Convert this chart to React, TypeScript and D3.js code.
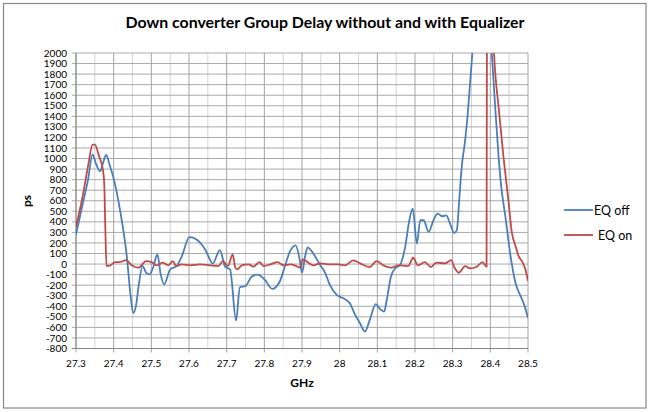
import React from "react";
import * as d3 from "d3";

// Group delay (ps)
const eqOffFreq = [
  27.3, 27.319, 27.332, 27.344, 27.352, 27.364, 27.372, 27.38, 27.39, 27.399,
  27.417, 27.435, 27.445, 27.452, 27.46, 27.466, 27.477, 27.486, 27.495, 27.505,
  27.516, 27.525, 27.534, 27.55, 27.567, 27.581, 27.601, 27.62, 27.643, 27.663,
  27.682, 27.696, 27.709, 27.725, 27.735, 27.75, 27.766, 27.782, 27.801, 27.821,
  27.841, 27.853, 27.868, 27.883, 27.894, 27.9, 27.908, 27.915, 27.927, 27.948,
  27.961, 27.974, 27.992, 28.01, 28.027, 28.041, 28.054, 28.067, 28.08, 28.096,
  28.107, 28.118, 28.125, 28.136, 28.147, 28.16, 28.174, 28.185, 28.194, 28.205,
  28.214, 28.223, 28.236, 28.249, 28.26, 28.272, 28.283, 28.293, 28.304, 28.311,
  28.318, 28.324, 28.333, 28.34, 28.346, 28.352, 28.378, 28.404, 28.413, 28.422,
  28.427, 28.441, 28.454, 28.467, 28.481, 28.49, 28.5,
];
const eqOffValue = [
  280, 588, 800, 1040, 960, 880, 960, 1035, 930, 824,
  509, 69, -300, -465, -380, -214, -19, -80, -97, -30,
  92, -100, -192, -50, -19, 75, 255, 233, 139, 7,
  132, -25, -50, -535, -220, -208, -120, -100, -148, -235,
  -165, -40, 120, 178, 40, -82, 69, 158, 116, -9,
  -80, -198, -292, -324, -371, -481, -560, -639, -528, -380,
  -425, -450, -340, -120, -41, -9, 163, 415, 525, 195,
  415, 415, 305, 415, 478, 453, 462, 384, 295, 321,
  635, 918, 1170, 1422, 1705, 1987, 3300, 1987, 1484, 1012,
  800, 420, 69, -182, -308, -387, -510,
];

const eqOnFreq = [
  27.3, 27.319, 27.333, 27.344, 27.35, 27.362, 27.371, 27.375, 27.378, 27.381,
  27.39, 27.404, 27.417, 27.433, 27.448, 27.466, 27.486, 27.501, 27.514, 27.531,
  27.545, 27.557, 27.566, 27.581, 27.603, 27.629, 27.656, 27.678, 27.69, 27.703,
  27.716, 27.723, 27.728, 27.74, 27.758, 27.771, 27.787, 27.798, 27.816, 27.835,
  27.851, 27.869, 27.885, 27.895, 27.902, 27.917, 27.93, 27.948, 27.974, 27.996,
  28.014, 28.036, 28.054, 28.08, 28.098, 28.116, 28.136, 28.156, 28.182, 28.195,
  28.208, 28.226, 28.242, 28.257, 28.28, 28.296, 28.305, 28.316, 28.333, 28.346,
  28.364, 28.379, 28.39, 28.391, 28.4, 28.41, 28.422, 28.435, 28.448, 28.457,
  28.467, 28.475, 28.484, 28.493, 28.5,
];
const eqOnValue = [
  350, 667, 950, 1132, 1132, 1012, 903, 761, 321, -19,
  -15, 19, 19, 38, -12, -34, 28, 19, -12, 13,
  -12, 28, -19, -3, -12, -3, -12, -19, 28, -19,
  92, -34, -50, -12, -3, -25, 19, -19, -3, 19,
  -12, -3, -19, -34, 45, 13, -12, 7, -3, -3,
  -12, 35, 7, -28, 28, -12, -34, -12, -19, 60,
  -12, 19, -28, 13, 7, 38, -34, -82, -19, -41,
  -25, 19, -25, 2300, 3000, 1987, 1484, 1012, 604, 300,
  170, 75, 28, -50, -160,
];

const xMajorTicks = [27.3, 27.4, 27.5, 27.6, 27.7, 27.8, 27.9, 28, 28.1, 28.2, 28.3, 28.4, 28.5];
const xTickLabels = ["27.3", "27.4", "27.5", "27.6", "27.7", "27.8", "27.9", "28", "28.1", "28.2", "28.3", "28.4", "28.5"];
const xMinorTicks = [27.35, 27.45, 27.55, 27.65, 27.75, 27.85, 27.95, 28.05, 28.15, 28.25, 28.35, 28.45];
const yTicks = [
  -800, -700, -600, -500, -400, -300, -200, -100, 0, 100, 200, 300, 400, 500,
  600, 700, 800, 900, 1000, 1100, 1200, 1300, 1400, 1500, 1600, 1700, 1800, 1900, 2000,
];

const series = [
  { name: "EQ off", freq: eqOffFreq, value: eqOffValue, color: "#4a7ebb" },
  { name: "EQ on", freq: eqOnFreq, value: eqOnValue, color: "#be4b48" },
];

const FONT = "Lato, 'Open Sans', sans-serif";

export default function App() {
  const x = d3.scaleLinear().domain([27.3, 28.5]).range([76, 528]);
  const y = d3.scaleLinear().domain([-800, 2000]).range([348.5, 53]);

  const line = d3
    .line<[number, number]>()
    .x((d) => x(d[0]))
    .y((d) => y(d[1]))
    .curve(d3.curveMonotoneX);

  const [x0, x1] = x.range();
  const [yb, yt] = y.range();

  return (
    <svg
      width={650}
      height={412}
      style={{ position: "absolute", left: 0, top: 0, display: "block", background: "#fff" }}
      fontFamily={FONT}
    >
      <rect x={3.5} y={3.5} width={642.5} height={404.5} fill="#fff" stroke="#888" strokeWidth={1.2} />

      <text x={325} y={28} textAnchor="middle" fontSize={15} fontWeight="bold" fill="#000" textLength={399} lengthAdjust="spacingAndGlyphs">
        Down converter Group Delay without and with Equalizer
      </text>

      <defs>
        <clipPath id="plot">
          <rect x={x0} y={yt} width={x1 - x0} height={yb - yt} />
        </clipPath>
      </defs>

      {/* grid */}
      {xMinorTicks.map((t, i) => (
        <line key={"m" + i} x1={x(t)} x2={x(t)} y1={yt} y2={yb} stroke="#d4d4d4" strokeWidth={1} />
      ))}
      {yTicks.map((t, i) => (
        <line key={"h" + i} x1={x0 - 4} x2={x1} y1={y(t)} y2={y(t)} stroke="#a9a9a9" strokeWidth={1} />
      ))}
      {xMajorTicks.map((t, i) => (
        <line key={"v" + i} x1={x(t)} x2={x(t)} y1={yt} y2={yb + 4} stroke="#a3a3a3" strokeWidth={1} />
      ))}
      <line x1={x0} x2={x0} y1={yt} y2={yb} stroke="#868686" strokeWidth={1} />
      <line x1={x0 - 4} x2={x1} y1={yb} y2={yb} stroke="#868686" strokeWidth={1} />

      {/* series */}
      <g clipPath="url(#plot)">
        {series.map((s) => (
          <path
            key={s.name}
            d={line(s.freq.map((f, i) => [f, s.value[i]] as [number, number])) || ""}
            fill="none"
            stroke={s.color}
            strokeWidth={1.8}
            strokeLinejoin="round"
          />
        ))}
      </g>

      {/* y labels */}
      {yTicks.map((t, i) => (
        <text key={"yl" + i} x={67} y={y(t) + 3.6} textAnchor="end" fontSize={10} fill="#000">
          {t}
        </text>
      ))}
      {/* x labels */}
      {xMajorTicks.map((t, i) => (
        <text key={"xl" + i} x={x(t)} y={367} textAnchor="middle" fontSize={10} fill="#000">
          {xTickLabels[i]}
        </text>
      ))}

      <text x={302} y={387} textAnchor="middle" fontSize={12} fontWeight="bold" fill="#000">
        GHz
      </text>
      <text transform="translate(31,201) rotate(-90)" textAnchor="middle" fontSize={12} fontWeight="bold" fill="#000">
        ps
      </text>

      {/* legend */}
      <line x1={564} x2={593} y1={210} y2={210} stroke={series[0].color} strokeWidth={1.8} />
      <text x={594} y={214.5} fontSize={12.5} fill="#000">
        {series[0].name}
      </text>
      <line x1={564} x2={593} y1={235} y2={235} stroke={series[1].color} strokeWidth={1.8} />
      <text x={598} y={239.5} fontSize={12.5} fill="#000">
        {series[1].name}
      </text>
    </svg>
  );
}
